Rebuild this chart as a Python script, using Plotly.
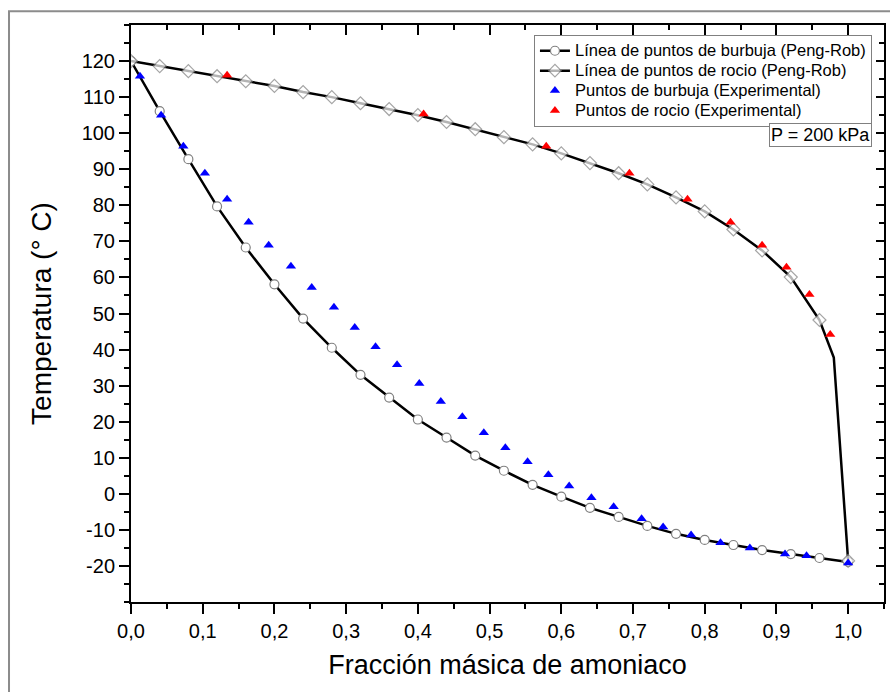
import plotly.graph_objects as go

# --- Data ---
bubble_x = [0.00, 0.04, 0.08, 0.12, 0.16, 0.20, 0.24, 0.28, 0.32, 0.36, 0.40, 0.44, 0.48,
            0.52, 0.56, 0.60, 0.64, 0.68, 0.72, 0.76, 0.80, 0.84, 0.88, 0.92, 0.96, 1.00]
bubble_T = [120.0, 106.1, 92.8, 79.7, 68.3, 58.1, 48.6, 40.5, 33.0, 26.7, 20.6, 15.6, 10.6,
            6.4, 2.5, -0.8, -3.9, -6.4, -8.9, -11.1, -12.8, -14.2, -15.6, -16.7, -17.8, -18.9]

dew_x = [0.00, 0.04, 0.08, 0.12, 0.16, 0.20, 0.24, 0.28, 0.32, 0.36, 0.40, 0.44, 0.48,
         0.52, 0.56, 0.60, 0.64, 0.68, 0.72, 0.76, 0.80, 0.84, 0.88, 0.92, 0.96, 0.98, 1.00]
dew_T = [120.0, 118.6, 117.2, 115.8, 114.4, 113.1, 111.4, 110.0, 108.3, 106.7, 105.0, 103.1, 101.1,
         98.9, 96.9, 94.4, 91.7, 88.9, 85.8, 82.2, 78.3, 73.3, 67.5, 60.1, 48.2, 37.8, -18.6]

exp_bubble_x = [0.0125, 0.042, 0.073, 0.103, 0.134, 0.164, 0.192, 0.223, 0.252, 0.283, 0.312,
                0.341, 0.371, 0.402, 0.432, 0.462, 0.492, 0.522, 0.553, 0.582, 0.611, 0.642,
                0.673, 0.712, 0.742, 0.781, 0.822, 0.863, 0.912, 0.942, 1.000]
exp_bubble_T = [115.8, 105.0, 96.4, 88.9, 81.7, 75.3, 68.9, 63.1, 57.2, 51.7, 46.1,
                40.8, 35.8, 30.6, 25.6, 21.4, 16.9, 12.8, 8.9, 5.3, 2.2, -1.1,
                -3.6, -6.9, -9.2, -11.4, -13.6, -15.0, -16.7, -17.2, -19.2]

exp_dew_x = [0.134, 0.408, 0.579, 0.695, 0.776, 0.836, 0.880, 0.914, 0.946, 0.975]
exp_dew_T = [116.1, 105.3, 96.4, 88.9, 81.7, 75.3, 68.9, 62.8, 55.3, 44.2]

y_ticks = [-20, -10, 0, 10, 20, 30, 40, 50, 60, 70, 80, 90, 100, 110, 120]

series_names = [
    "Línea de puntos de burbuja (Peng-Rob)",
    "Línea de puntos de rocio (Peng-Rob)",
    "Puntos de burbuja (Experimental)",
    "Puntos de rocio (Experimental)",
]

FONT = "Arial, Liberation Sans, sans-serif"


def legend_label(name):
    # larger text inside a compact legend row
    return '<span style="font-size:16.5px">' + name + '</span>'


# marker sizes: the 0.98 point of the dew line has no marker
dew_sizes = [10] * len(dew_x)
dew_sizes[dew_x.index(0.98)] = 0

fig = go.Figure()
fig.add_trace(go.Scatter(
    x=bubble_x, y=bubble_T, mode="lines+markers",
    name=legend_label(series_names[0]),
    line=dict(color="black", width=2.5),
    marker=dict(symbol="circle", size=9, color="white", line=dict(color="#808080", width=1.2)),
))
fig.add_trace(go.Scatter(
    x=dew_x, y=dew_T, mode="lines+markers",
    name=legend_label(series_names[1]),
    line=dict(color="black", width=2.5),
    marker=dict(symbol="diamond", size=dew_sizes, color="white", line=dict(color="#808080", width=1.2)),
))
fig.add_trace(go.Scatter(
    x=exp_bubble_x, y=exp_bubble_T, mode="markers",
    name=legend_label(series_names[2]),
    marker=dict(symbol="triangle-up", size=9, color="#0000ff"),
))
fig.add_trace(go.Scatter(
    x=exp_dew_x, y=exp_dew_T, mode="markers",
    name=legend_label(series_names[3]),
    marker=dict(symbol="triangle-up", size=9, color="#ff0000"),
))
# dummy trace to activate mirror axes (top / right) with inward ticks
fig.add_trace(go.Scatter(x=[None], y=[None], xaxis="x2", yaxis="y2", showlegend=False,
                         hoverinfo="skip"))

XR = [0, 1.05]
YR = [-30, 130]

fig.update_layout(
    width=890, height=692,
    margin=dict(l=131, r=6, t=25, b=90),
    paper_bgcolor="white", plot_bgcolor="white",
    separators=",.",
    font=dict(family=FONT, color="black"),
    showlegend=True,
    legend=dict(
        x=0.984, xanchor="right", y=0.983, yanchor="top",
        bgcolor="white", bordercolor="#808080", borderwidth=1,
        font=dict(size=13, family=FONT, color="black"),
        tracegroupgap=0, itemwidth=30,
    ),
    xaxis=dict(
        range=XR, showgrid=False, zeroline=False,
        showline=True, linecolor="black", linewidth=2,
        tickmode="linear", tick0=0, dtick=0.1, tickformat=".1f",
        ticks="outside", ticklen=10, tickwidth=2, tickcolor="black",
        minor=dict(dtick=0.05, tick0=0, ticks="outside", ticklen=5, tickwidth=2, tickcolor="black"),
        tickfont=dict(size=20, family=FONT),
        title=dict(text="Fracción másica de amoniaco", font=dict(size=27, family=FONT), standoff=14),
    ),
    yaxis=dict(
        range=YR, showgrid=False, zeroline=False,
        showline=True, linecolor="black", linewidth=2,
        tickmode="array", tickvals=y_ticks, ticktext=[str(v) for v in y_ticks],
        ticks="outside", ticklen=10, tickwidth=2, tickcolor="black",
        minor=dict(dtick=5, tick0=0, ticks="outside", ticklen=5, tickwidth=2, tickcolor="black"),
        tickfont=dict(size=20, family=FONT),
        title=dict(text="Temperatura (° C)", font=dict(size=28, family=FONT), standoff=22),
    ),
    xaxis2=dict(
        range=XR, overlaying="x", side="top", anchor="y",
        showgrid=False, zeroline=False, showline=True, linecolor="black", linewidth=2,
        tickmode="linear", tick0=0, dtick=0.1, showticklabels=False,
        ticks="inside", ticklen=10, tickwidth=2, tickcolor="black",
        minor=dict(dtick=0.05, tick0=0, ticks="inside", ticklen=5, tickwidth=2, tickcolor="black"),
    ),
    yaxis2=dict(
        range=YR, overlaying="y", side="right", anchor="x",
        showgrid=False, zeroline=False, showline=True, linecolor="black", linewidth=2,
        tickmode="linear", tick0=0, dtick=10, showticklabels=False,
        ticks="inside", ticklen=8, tickwidth=2, tickcolor="black",
        minor=dict(dtick=5, tick0=0, ticks="inside", ticklen=5, tickwidth=2, tickcolor="black"),
    ),
    annotations=[dict(
        text="P = 200 kPa", xref="paper", yref="paper", x=0.984, y=0.830,
        xanchor="right", yanchor="top", showarrow=False,
        font=dict(size=18, family=FONT, color="black"),
        bgcolor="white", bordercolor="#808080", borderwidth=1, borderpad=1,
    )],
    shapes=[dict(
        type="rect", xref="paper", yref="paper",
        x0=-0.162, x1=1.03, y0=-0.18, y1=1.024,
        line=dict(color="#8c8c8c", width=2), fillcolor="rgba(0,0,0,0)", layer="below",
    )],
)

fig.write_html("out.html")
